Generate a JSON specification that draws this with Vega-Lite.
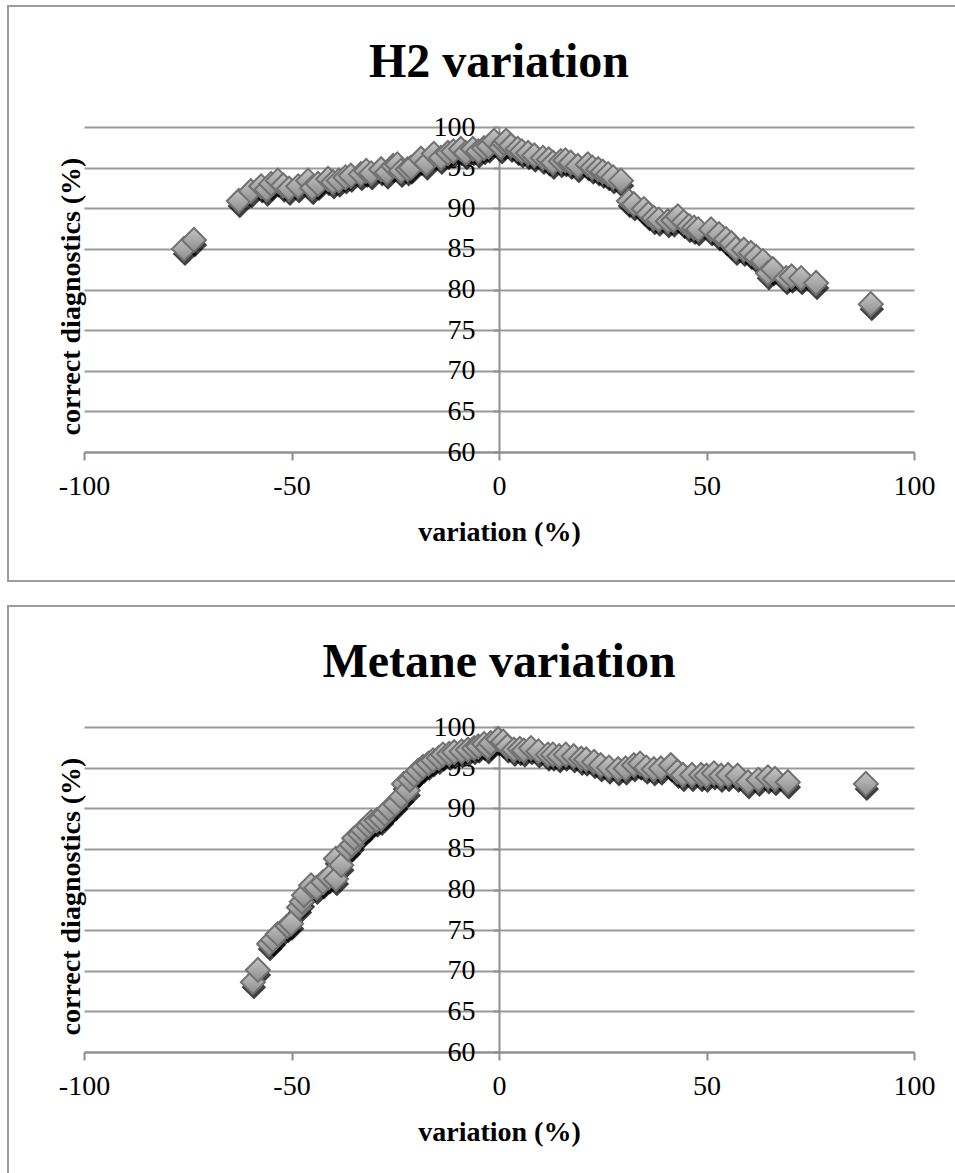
{
  "$schema": "https://vega.github.io/schema/vega-lite/v6.json",
  "padding": {"left": 7, "top": 5, "right": 0, "bottom": 0},
  "background": "white",
  "config": {
    "view": {"stroke": "#9c9c9c", "strokeWidth": 2},
    "font": "Liberation Serif"
  },
  "spacing": 23,
  "datasets": {
    "h2": [
      {"variation": -75.9, "correct": 85.0}, {"variation": -73.5, "correct": 86.1},
      {"variation": -62.7, "correct": 90.9}, {"variation": -59.8, "correct": 92.1},
      {"variation": -57.3, "correct": 92.7}, {"variation": -56.0, "correct": 92.3},
      {"variation": -54.9, "correct": 93.0}, {"variation": -53.3, "correct": 93.4},
      {"variation": -52.0, "correct": 92.8}, {"variation": -50.6, "correct": 92.4},
      {"variation": -48.4, "correct": 92.7}, {"variation": -46.0, "correct": 93.4},
      {"variation": -45.0, "correct": 92.5}, {"variation": -43.6, "correct": 93.0},
      {"variation": -41.2, "correct": 93.6}, {"variation": -40.0, "correct": 93.2},
      {"variation": -38.6, "correct": 93.4}, {"variation": -37.0, "correct": 93.8},
      {"variation": -35.7, "correct": 94.0}, {"variation": -33.3, "correct": 94.2},
      {"variation": -32.0, "correct": 94.6}, {"variation": -30.8, "correct": 94.3},
      {"variation": -28.4, "correct": 94.8}, {"variation": -27.0, "correct": 94.4},
      {"variation": -25.5, "correct": 95.2}, {"variation": -24.5, "correct": 95.4},
      {"variation": -23.6, "correct": 94.6}, {"variation": -22.0, "correct": 94.8},
      {"variation": -21.2, "correct": 95.0}, {"variation": -18.8, "correct": 96.1},
      {"variation": -17.5, "correct": 95.5}, {"variation": -15.7, "correct": 96.7},
      {"variation": -14.0, "correct": 96.2}, {"variation": -12.3, "correct": 96.8},
      {"variation": -11.0, "correct": 97.0}, {"variation": -9.2, "correct": 97.3},
      {"variation": -8.0, "correct": 96.8}, {"variation": -6.3, "correct": 97.3},
      {"variation": -5.0, "correct": 97.0}, {"variation": -3.6, "correct": 97.4},
      {"variation": -2.5, "correct": 97.6}, {"variation": -1.2, "correct": 98.3},
      {"variation": 0.5, "correct": 97.5}, {"variation": 1.2, "correct": 98.0},
      {"variation": 1.7, "correct": 98.3}, {"variation": 2.9, "correct": 97.7},
      {"variation": 4.5, "correct": 97.3}, {"variation": 5.5, "correct": 97.0},
      {"variation": 7.0, "correct": 96.8}, {"variation": 8.5, "correct": 96.5},
      {"variation": 10.6, "correct": 96.2}, {"variation": 12.0, "correct": 96.0},
      {"variation": 13.0, "correct": 95.6}, {"variation": 14.9, "correct": 95.8},
      {"variation": 16.0, "correct": 95.9}, {"variation": 17.3, "correct": 95.6},
      {"variation": 19.0, "correct": 95.2}, {"variation": 21.4, "correct": 95.4},
      {"variation": 22.5, "correct": 95.0}, {"variation": 23.9, "correct": 94.8},
      {"variation": 25.0, "correct": 94.5}, {"variation": 26.3, "correct": 94.2},
      {"variation": 27.5, "correct": 93.8}, {"variation": 29.4, "correct": 93.4},
      {"variation": 31.3, "correct": 90.9}, {"variation": 32.5, "correct": 90.5},
      {"variation": 34.9, "correct": 89.9}, {"variation": 36.0, "correct": 89.3},
      {"variation": 37.3, "correct": 88.8}, {"variation": 38.5, "correct": 88.6},
      {"variation": 40.7, "correct": 88.4}, {"variation": 42.0, "correct": 88.5},
      {"variation": 43.1, "correct": 89.0}, {"variation": 44.5, "correct": 88.3},
      {"variation": 45.8, "correct": 87.8}, {"variation": 47.0, "correct": 87.6},
      {"variation": 48.0, "correct": 87.4}, {"variation": 51.1, "correct": 87.4},
      {"variation": 53.0, "correct": 86.8}, {"variation": 54.7, "correct": 86.2},
      {"variation": 56.0, "correct": 85.7}, {"variation": 57.1, "correct": 85.0},
      {"variation": 59.0, "correct": 84.9}, {"variation": 60.7, "correct": 84.5},
      {"variation": 62.0, "correct": 84.0}, {"variation": 63.6, "correct": 83.5},
      {"variation": 64.8, "correct": 82.0}, {"variation": 66.0, "correct": 82.5},
      {"variation": 69.2, "correct": 81.4}, {"variation": 70.5, "correct": 81.6},
      {"variation": 72.8, "correct": 81.4}, {"variation": 76.4, "correct": 80.8},
      {"variation": 89.6, "correct": 78.2}
    ],
    "metane": [
      {"variation": -59.3, "correct": 68.6}, {"variation": -58.1, "correct": 70.1},
      {"variation": -55.4, "correct": 73.3}, {"variation": -54.5, "correct": 73.8},
      {"variation": -53.3, "correct": 74.5}, {"variation": -51.0, "correct": 75.5},
      {"variation": -50.1, "correct": 75.8}, {"variation": -48.2, "correct": 77.8},
      {"variation": -47.5, "correct": 78.5}, {"variation": -47.0, "correct": 79.3},
      {"variation": -45.3, "correct": 80.5}, {"variation": -44.0, "correct": 80.2},
      {"variation": -42.4, "correct": 80.9}, {"variation": -41.0, "correct": 81.5},
      {"variation": -39.3, "correct": 81.3}, {"variation": -39.3, "correct": 83.8},
      {"variation": -38.0, "correct": 83.0}, {"variation": -36.4, "correct": 85.0},
      {"variation": -35.5, "correct": 85.5}, {"variation": -34.9, "correct": 86.3},
      {"variation": -33.5, "correct": 86.8}, {"variation": -32.8, "correct": 87.3},
      {"variation": -31.5, "correct": 87.8}, {"variation": -30.8, "correct": 88.3},
      {"variation": -29.5, "correct": 88.5}, {"variation": -28.4, "correct": 88.7},
      {"variation": -27.5, "correct": 89.3}, {"variation": -26.5, "correct": 89.9},
      {"variation": -25.0, "correct": 90.5}, {"variation": -23.6, "correct": 91.4},
      {"variation": -22.9, "correct": 93.0}, {"variation": -22.0, "correct": 92.2},
      {"variation": -21.5, "correct": 93.5}, {"variation": -20.5, "correct": 94.1},
      {"variation": -19.5, "correct": 94.6}, {"variation": -18.3, "correct": 95.1},
      {"variation": -17.0, "correct": 95.5}, {"variation": -15.9, "correct": 95.9},
      {"variation": -14.5, "correct": 96.2}, {"variation": -13.5, "correct": 96.6},
      {"variation": -12.0, "correct": 96.7}, {"variation": -10.8, "correct": 96.9},
      {"variation": -9.0, "correct": 97.0}, {"variation": -7.5, "correct": 97.2},
      {"variation": -6.0, "correct": 97.4}, {"variation": -5.0, "correct": 97.6},
      {"variation": -3.6, "correct": 97.9}, {"variation": -2.7, "correct": 97.5},
      {"variation": -2.0, "correct": 98.0}, {"variation": -0.2, "correct": 98.5},
      {"variation": 1.0, "correct": 98.2}, {"variation": 2.0, "correct": 97.6},
      {"variation": 3.6, "correct": 97.2}, {"variation": 5.0, "correct": 97.3},
      {"variation": 6.0, "correct": 97.1}, {"variation": 7.7, "correct": 97.4},
      {"variation": 9.5, "correct": 97.0}, {"variation": 11.8, "correct": 96.6},
      {"variation": 13.0, "correct": 96.6}, {"variation": 14.5, "correct": 96.4},
      {"variation": 16.1, "correct": 96.6}, {"variation": 18.0, "correct": 96.4},
      {"variation": 19.8, "correct": 96.1}, {"variation": 21.0, "correct": 96.0},
      {"variation": 22.9, "correct": 95.7}, {"variation": 24.5, "correct": 95.3},
      {"variation": 26.5, "correct": 95.0}, {"variation": 28.7, "correct": 94.8},
      {"variation": 30.5, "correct": 94.9}, {"variation": 32.5, "correct": 95.3},
      {"variation": 34.0, "correct": 95.5}, {"variation": 35.5, "correct": 95.0},
      {"variation": 37.3, "correct": 94.8}, {"variation": 39.0, "correct": 94.9},
      {"variation": 41.4, "correct": 95.3}, {"variation": 43.0, "correct": 94.5},
      {"variation": 44.3, "correct": 94.1}, {"variation": 46.5, "correct": 94.1},
      {"variation": 48.7, "correct": 94.1}, {"variation": 50.0, "correct": 94.0},
      {"variation": 51.8, "correct": 94.3}, {"variation": 53.5, "correct": 94.0},
      {"variation": 55.2, "correct": 94.1}, {"variation": 57.5, "correct": 94.0},
      {"variation": 60.0, "correct": 93.2}, {"variation": 62.5, "correct": 93.5},
      {"variation": 64.8, "correct": 93.8}, {"variation": 66.5, "correct": 93.6},
      {"variation": 69.6, "correct": 93.2}, {"variation": 88.4, "correct": 93.0}
    ]
  },
  "vconcat": [
    {
      "width": 950,
      "height": 575,
      "title": {"text": "H2 variation", "font": "Liberation Serif", "fontSize": 48, "fontWeight": "bold", "color": "black", "anchor": "middle", "frame": "group", "offset": -81, "dx": 16},
      "data": {"name": "h2"},
      "encoding": {
        "x": {
          "field": "variation", "type": "quantitative",
          "scale": {"domain": [-100, 100], "range": [76, 906], "nice": false, "zero": false},
          "axis": {"orient": "bottom", "offset": -129, "values": [-100, -50, 0, 50, 100], "grid": false,
            "domainColor": "#8f8f8f", "domainWidth": 2, "tickColor": "#8f8f8f", "tickSize": 8, "tickWidth": 2,
            "labelFont": "Liberation Serif", "labelFontSize": 28, "labelColor": "black", "labelPadding": 12, "labelFlush": false, "labelOverlap": false,
            "labelExpr": "'' + datum.value",
            "title": "variation (%)", "titleFont": "Liberation Serif", "titleFontSize": 28, "titleFontWeight": "bold", "titleColor": "black", "titlePadding": 18}
        }
      },
      "layer": [
        {
          "mark": {"type": "point", "shape": "diamond", "filled": true, "fill": "black", "opacity": 0.75, "size": 600, "strokeWidth": 0, "xOffset": 1, "yOffset": 5},
          "encoding": {
            "y": {
              "field": "correct", "type": "quantitative",
              "scale": {"domain": [60, 100], "range": [446, 121], "nice": false, "zero": false},
              "axis": {"orient": "left", "values": [60, 65, 70, 75, 80, 85, 90, 95, 100], "grid": true, "gridColor": "#9a9a9a", "gridWidth": 2,
                "labels": false, "ticks": false, "domain": false,
                "title": "correct diagnostics (%)", "titleFont": "Liberation Serif", "titleFontSize": 28, "titleFontWeight": "bold", "titleColor": "black",
                "titleX": 63, "titleY": 290, "titleAngle": -90, "titleAlign": "center", "titleBaseline": "middle"}
            }
          }
        },
        {
          "mark": {"type": "point", "shape": "diamond", "filled": true, "opacity": 1, "size": 576, "stroke": "#717171", "strokeWidth": 2,
            "fill": {"gradient": "linear", "x1": 0, "y1": 0, "x2": 0, "y2": 1, "stops": [{"offset": 0, "color": "#c6c6c6"}, {"offset": 1, "color": "#8c8c8c"}]}},
          "encoding": {
            "y": {
              "field": "correct", "type": "quantitative",
              "scale": {"domain": [60, 100], "range": [446, 121], "nice": false, "zero": false},
              "axis": {"orient": "left", "offset": -491, "values": [60, 65, 70, 75, 80, 85, 90, 95, 100], "grid": false, "title": null,
                "domainColor": "#8f8f8f", "domainWidth": 2, "tickColor": "#8f8f8f", "tickSize": 6, "tickWidth": 2,
                "labelFont": "Liberation Serif", "labelFontSize": 28, "labelColor": "black", "labelPadding": 18, "labelFlush": false, "labelOverlap": false}
            }
          }
        }
      ],
      "resolve": {"axis": {"y": "independent"}}
    },
    {
      "width": 950,
      "height": 575,
      "title": {"text": "Metane variation", "font": "Liberation Serif", "fontSize": 48, "fontWeight": "bold", "color": "black", "anchor": "middle", "frame": "group", "offset": -81, "dx": 16},
      "data": {"name": "metane"},
      "encoding": {
        "x": {
          "field": "variation", "type": "quantitative",
          "scale": {"domain": [-100, 100], "range": [76, 906], "nice": false, "zero": false},
          "axis": {"orient": "bottom", "offset": -129, "values": [-100, -50, 0, 50, 100], "grid": false,
            "domainColor": "#8f8f8f", "domainWidth": 2, "tickColor": "#8f8f8f", "tickSize": 8, "tickWidth": 2,
            "labelFont": "Liberation Serif", "labelFontSize": 28, "labelColor": "black", "labelPadding": 12, "labelFlush": false, "labelOverlap": false,
            "labelExpr": "'' + datum.value",
            "title": "variation (%)", "titleFont": "Liberation Serif", "titleFontSize": 28, "titleFontWeight": "bold", "titleColor": "black", "titlePadding": 18}
        }
      },
      "layer": [
        {
          "mark": {"type": "point", "shape": "diamond", "filled": true, "fill": "black", "opacity": 0.75, "size": 600, "strokeWidth": 0, "xOffset": 1, "yOffset": 5},
          "encoding": {
            "y": {
              "field": "correct", "type": "quantitative",
              "scale": {"domain": [60, 100], "range": [446, 121], "nice": false, "zero": false},
              "axis": {"orient": "left", "values": [60, 65, 70, 75, 80, 85, 90, 95, 100], "grid": true, "gridColor": "#9a9a9a", "gridWidth": 2,
                "labels": false, "ticks": false, "domain": false,
                "title": "correct diagnostics (%)", "titleFont": "Liberation Serif", "titleFontSize": 28, "titleFontWeight": "bold", "titleColor": "black",
                "titleX": 63, "titleY": 290, "titleAngle": -90, "titleAlign": "center", "titleBaseline": "middle"}
            }
          }
        },
        {
          "mark": {"type": "point", "shape": "diamond", "filled": true, "opacity": 1, "size": 576, "stroke": "#717171", "strokeWidth": 2,
            "fill": {"gradient": "linear", "x1": 0, "y1": 0, "x2": 0, "y2": 1, "stops": [{"offset": 0, "color": "#c6c6c6"}, {"offset": 1, "color": "#8c8c8c"}]}},
          "encoding": {
            "y": {
              "field": "correct", "type": "quantitative",
              "scale": {"domain": [60, 100], "range": [446, 121], "nice": false, "zero": false},
              "axis": {"orient": "left", "offset": -491, "values": [60, 65, 70, 75, 80, 85, 90, 95, 100], "grid": false, "title": null,
                "domainColor": "#8f8f8f", "domainWidth": 2, "tickColor": "#8f8f8f", "tickSize": 6, "tickWidth": 2,
                "labelFont": "Liberation Serif", "labelFontSize": 28, "labelColor": "black", "labelPadding": 18, "labelFlush": false, "labelOverlap": false}
            }
          }
        }
      ],
      "resolve": {"axis": {"y": "independent"}}
    }
  ]
}
